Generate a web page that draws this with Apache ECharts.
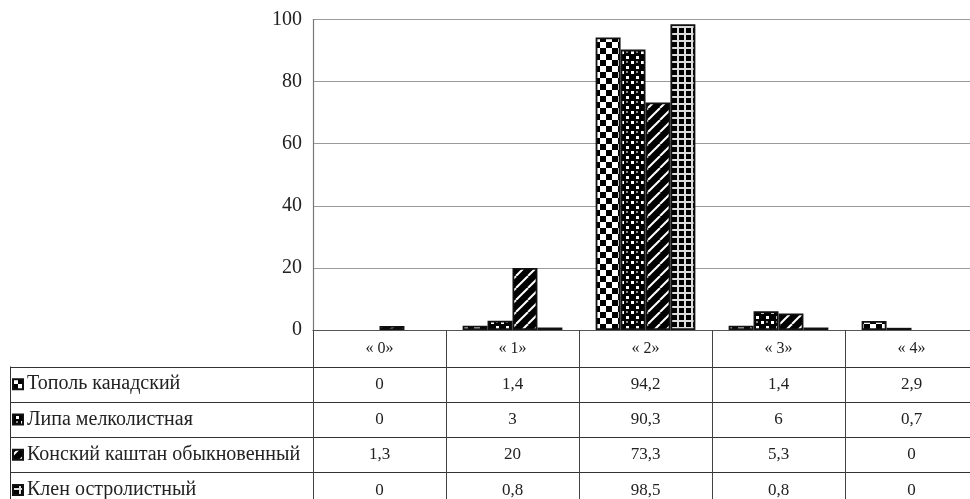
<!DOCTYPE html>
<html><head><meta charset="utf-8">
<script src="https://cdn.jsdelivr.net/npm/echarts@6/dist/echarts.min.js"></script>
<style>html,body{margin:0;padding:0;background:#fff}#c{width:970px;height:499px}</style>
</head><body><div id="c"></div>
<script>
const categories = ['« 0»', '« 1»', '« 2»', '« 3»', '« 4»'];
const seriesNames = ['Тополь канадский', 'Липа мелколистная', 'Конский каштан обыкновенный', 'Клен остролистный'];
const topol = [0, 1.4, 94.2, 1.4, 2.9];
const lipa = [0, 3, 90.3, 6, 0.7];
const kashtan = [1.3, 20, 73.3, 5.3, 0];
const klen = [0, 0.8, 98.5, 0.8, 0];
const yTicks = [0, 20, 40, 60, 80, 100];
const values = [topol, lipa, kashtan, klen];

function mk(w, h, draw) {
  const c = document.createElement('canvas'); c.width = w; c.height = h;
  const g = c.getContext('2d'); draw(g, w, h); return c;
}
const patChecker = mk(12, 12, (g) => {
  g.fillStyle = '#fff'; g.fillRect(0, 0, 12, 12);
  g.fillStyle = '#000'; g.fillRect(0, 0, 6, 6); g.fillRect(6, 6, 6, 6);
});
const patDots = mk(10, 10, (g) => {
  g.fillStyle = '#000'; g.fillRect(0, 0, 10, 10);
  g.fillStyle = '#fff'; g.fillRect(1, 1, 3, 3); g.fillRect(6, 6, 3, 3);
  g.fillStyle = '#888'; g.fillRect(6, 1, 2, 2);
});
const patDiag = mk(12, 12, (g) => {
  g.fillStyle = '#000'; g.fillRect(0, 0, 12, 12);
  g.strokeStyle = '#fff'; g.lineWidth = 2;
  for (const o of [-12, 0, 12]) { g.beginPath(); g.moveTo(o, 12); g.lineTo(o + 12, 0); g.stroke(); }
});
const patGrid = mk(7, 7, (g) => {
  g.fillStyle = '#ddd'; g.fillRect(0, 0, 7, 7);
  g.fillStyle = '#000'; g.fillRect(0, 0, 5, 5);
});
const patterns = [patChecker, patDots, patDiag, patGrid];
const fills = patterns.map(p => ({ image: p, repeat: 'repeat' }));

const FONT = 'Liberation Serif';
const chart = echarts.init(document.getElementById('c'), null, { renderer: 'canvas' });
const GL = 313, GT = 19.5, GB = 169, GW = 665, W = 970, H = 499;
const rowTop = 366.5, rowH = 35.3, tableLeft = 10;

chart.setOption({
  animation: false,
  grid: { left: GL, top: GT, bottom: GB, width: GW, outerBoundsMode: 'none', containLabel: false },
  xAxis: {
    type: 'category', data: categories,
    axisLine: { lineStyle: { color: '#555', width: 1.2 } },
    axisTick: { show: true, length: GB, lineStyle: { color: '#444', width: 1 } },
    axisLabel: { fontFamily: FONT, fontSize: 16, color: '#222', margin: 11 }
  },
  yAxis: {
    type: 'value', min: yTicks[0], max: yTicks[yTicks.length - 1], interval: 20,
    axisLine: { show: true, lineStyle: { color: '#777', width: 1.2 } },
    axisTick: { show: false },
    splitLine: { lineStyle: { color: '#9a9a9a', width: 1 } },
    axisLabel: { fontFamily: FONT, fontSize: 20, color: '#222', margin: 11 }
  },
  series: values.map((v, i) => ({
    type: 'bar', name: seriesNames[i], data: v.map(x => x === 0 ? '-' : x),
    barGap: '0%', barCategoryGap: '25%',
    itemStyle: { color: fills[i], borderColor: '#111', borderWidth: 1.8 }
  }))
});

function fmt(n) { return String(n).replace('.', ','); }
const gfx = [];
for (let r = 0; r <= values.length; r++) {
  const y = Math.round(rowTop + r * rowH) + 0.5;
  gfx.push({ type: 'line', shape: { x1: tableLeft, y1: y, x2: W, y2: y }, style: { stroke: '#333', lineWidth: 1 } });
}
gfx.push({ type: 'line', shape: { x1: tableLeft + 0.5, y1: rowTop, x2: tableLeft + 0.5, y2: H }, style: { stroke: '#333', lineWidth: 1 } });
values.forEach((v, r) => {
  const cy = rowTop + r * rowH + rowH / 2;
  gfx.push({ type: 'rect', shape: { x: 13, y: cy - 5, width: 10, height: 10 }, style: { fill: fills[r], stroke: '#111', lineWidth: 2 } });
  gfx.push({ type: 'text', x: 27, y: cy, style: { text: seriesNames[r], fontFamily: FONT, fontSize: 20, fill: '#222', verticalAlign: 'middle', align: 'left' } });
  v.forEach((val, c) => {
    const x = chart.convertToPixel({ xAxisIndex: 0 }, c);
    gfx.push({ type: 'text', x: x, y: cy, style: { text: fmt(val), fontFamily: FONT, fontSize: 17, fill: '#222', verticalAlign: 'middle', align: 'center' } });
  });
});
chart.setOption({ graphic: gfx });
</script></body></html>
